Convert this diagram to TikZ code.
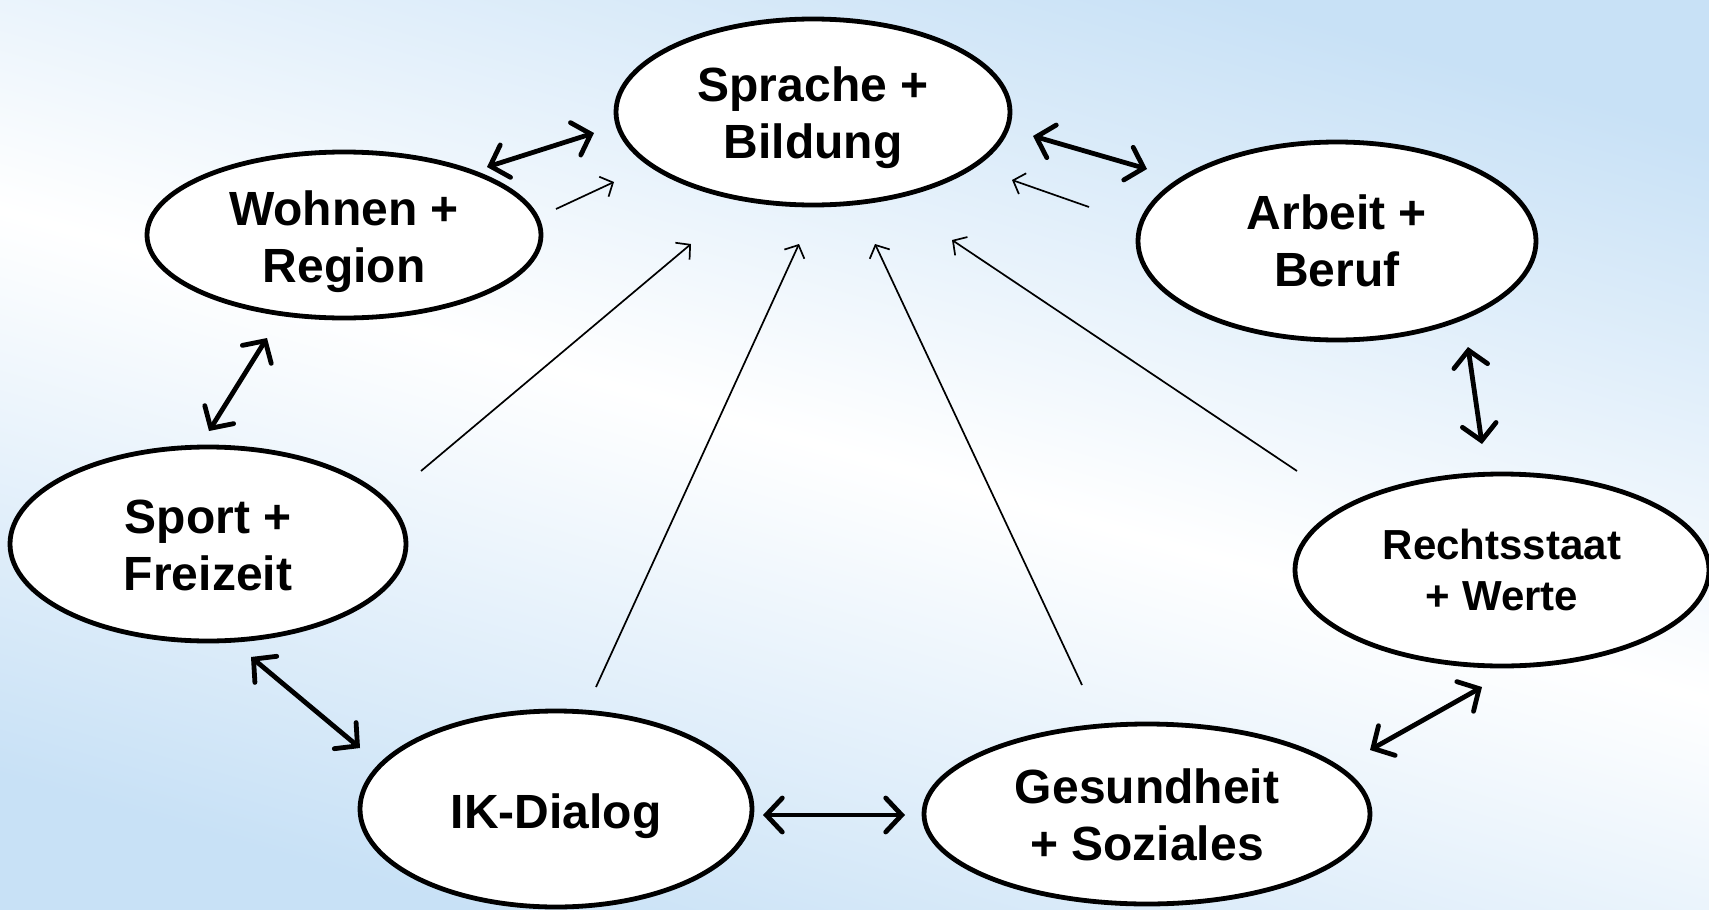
\documentclass[tikz,border=0pt]{standalone}
\usepackage{fontspec}
\setmainfont{Liberation Sans}
\usetikzlibrary{shapes.geometric,arrows.meta}
\definecolor{bgblue}{RGB}{200,225,246}
\newcommand\ovaltext[2]{\raisebox{#1}[\height][\depth]{\begin{tabular}{@{}c@{}}#2\end{tabular}}}
\tikzset{
  topic/.style={ellipse, draw=black, line width=4.8pt, fill=white, inner sep=0pt,
    font=\fontsize{48}{57}\selectfont\bfseries},
  both/.style={line width=4.8pt, {Straight Barb[length=16pt,width=34pt,line cap=round]}-{Straight Barb[length=16pt,width=34pt,line cap=round]}, line cap=round},
  feed/.style={line width=1.7pt, -{Straight Barb[length=10pt,width=22pt,line width=1.7pt]}}
}
\begin{document}
\begin{tikzpicture}[x=1pt,y=-1pt]
\shade[top color=bgblue, bottom color=bgblue, middle color=white, shading angle=-16] (0,0) rectangle (1709,910);
\useasboundingbox (0,0) rectangle (1709,910);
\node[topic, minimum width=394pt, minimum height=186pt] (spr) at (813,112) {\ovaltext{-7pt}{Sprache +\\Bildung}};
\node[topic, minimum width=394pt, minimum height=166pt] (woh) at (344,235) {\ovaltext{-8pt}{Wohnen +\\Region}};
\node[topic, minimum width=398pt, minimum height=198pt] (arb) at (1337,241) {\ovaltext{-6pt}{Arbeit +\\Beruf}};
\node[topic, minimum width=396pt, minimum height=194pt] (spo) at (208,544) {\ovaltext{-7pt}{Sport +\\Freizeit}};
\node[topic, minimum width=414pt, minimum height=192pt, font=\fontsize{42}{51}\selectfont\bfseries] (rec) at (1502,570) {\ovaltext{-5pt}{Rechtsstaat\\+ Werte}};
\node[topic, minimum width=392pt, minimum height=196pt] (ikd) at (556,809) {\ovaltext{-8pt}{IK-Dialog}};
\node[topic, minimum width=446pt, minimum height=180pt] (ges) at (1147,814) {\ovaltext{-7pt}{Gesundheit\\+ Soziales}};
% double arrows
\coordinate (d1a) at (487,167); \coordinate (d1b) at (594,133);
\coordinate (d2a) at (1033,136); \coordinate (d2b) at (1147,169);
\coordinate (d3a) at (1468,347); \coordinate (d3b) at (1482,444);
\coordinate (d4a) at (1482,687); \coordinate (d4b) at (1370,750);
\coordinate (d5a) at (905,815); \coordinate (d5b) at (763,815);
\coordinate (d6a) at (360,748); \coordinate (d6b) at (251,657);
\coordinate (d7a) at (209,431); \coordinate (d7b) at (267,338);
\draw[both] (d1a) -- (d1b);
\draw[both] (d2a) -- (d2b);
\draw[both] (d3a) -- (d3b);
\draw[both] (d4a) -- (d4b);
\draw[both] (d5a) -- (d5b);
\draw[both] (d6a) -- (d6b);
\draw[both] (d7a) -- (d7b);
% feed arrows into Sprache
\coordinate (fa) at (556,209); \coordinate (ta) at (614,182);
\coordinate (fb) at (1089,207); \coordinate (tb) at (1012,180);
\coordinate (fc) at (421,471); \coordinate (tc) at (691,244);
\coordinate (fd) at (596,687); \coordinate (td) at (799,244);
\coordinate (fe) at (1082,685); \coordinate (te) at (875,244);
\coordinate (ff) at (1297,471); \coordinate (tf) at (952,240);
\draw[feed] (fa) -- (ta);
\draw[feed] (fb) -- (tb);
\draw[feed] (fc) -- (tc);
\draw[feed] (fd) -- (td);
\draw[feed] (fe) -- (te);
\draw[feed] (ff) -- (tf);
\end{tikzpicture}
\end{document}
